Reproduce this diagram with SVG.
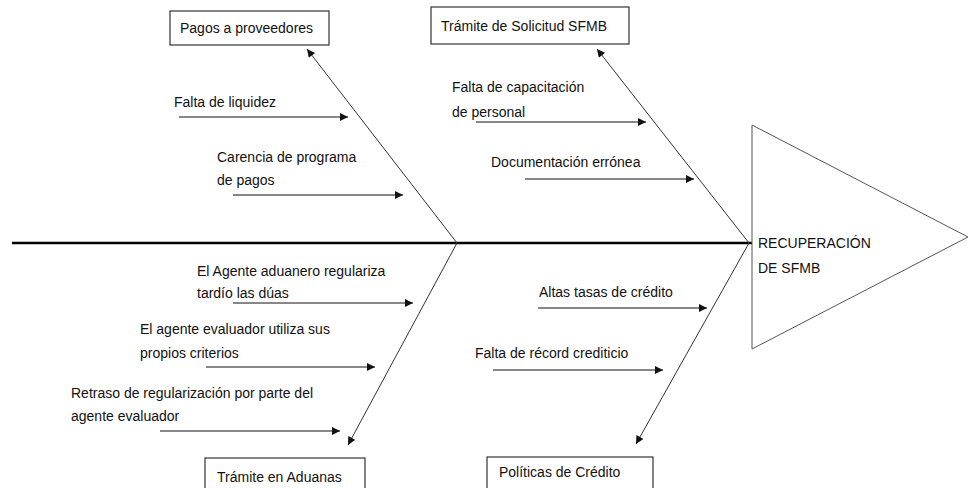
<svg xmlns="http://www.w3.org/2000/svg" width="969" height="488" viewBox="0 0 969 488">
<style>
text{font-family:"Liberation Sans",Arial,sans-serif;font-size:14px;fill:#111}
.box{fill:#fff;stroke:#333;stroke-width:1.2}
.bone{stroke:#333;stroke-width:1;fill:none}
.cause{stroke:#111;stroke-width:1;fill:none}
</style>
<defs>
<marker id="ah" viewBox="0 0 10 10" refX="10" refY="5" markerWidth="10" markerHeight="8" markerUnits="userSpaceOnUse" orient="auto">
<path d="M0,0 L10,5 L0,10 z" fill="#111"/>
</marker>
</defs>
<g id="spine">
<line x1="12" y1="243" x2="752" y2="243" stroke="#000" stroke-width="2.5"/>
</g>
<g id="effect">
<polygon points="752,125 968,237 752,349" fill="#fff" stroke="#555" stroke-width="1"/>
<text x="758" y="248">RECUPERACIÓN</text>
<text x="758" y="273">DE SFMB</text>
</g>
<g id="connectors">
<line class="bone" x1="457" y1="243" x2="307" y2="49" marker-end="url(#ah)"/>
<line class="bone" x1="749" y1="243" x2="597" y2="49" marker-end="url(#ah)"/>
<line class="bone" x1="457" y1="243" x2="348" y2="445" marker-end="url(#ah)"/>
<line class="bone" x1="749" y1="243" x2="636" y2="444" marker-end="url(#ah)"/>
<line class="cause" x1="179" y1="117" x2="348" y2="117" marker-end="url(#ah)"/>
<line class="cause" x1="233" y1="195" x2="403" y2="195" marker-end="url(#ah)"/>
<line class="cause" x1="476" y1="122" x2="646" y2="122" marker-end="url(#ah)"/>
<line class="cause" x1="525" y1="179" x2="694" y2="179" marker-end="url(#ah)"/>
<line class="cause" x1="233" y1="303" x2="413" y2="303" marker-end="url(#ah)"/>
<line class="cause" x1="206" y1="367" x2="375" y2="367" marker-end="url(#ah)"/>
<line class="cause" x1="160" y1="431" x2="340" y2="431" marker-end="url(#ah)"/>
<line class="cause" x1="538" y1="308" x2="707" y2="308" marker-end="url(#ah)"/>
<line class="cause" x1="493" y1="370" x2="663" y2="370" marker-end="url(#ah)"/>
</g>
<g id="cat-pagos">
<rect class="box" x="170" y="11" width="159" height="34"/>
<text x="180" y="33">Pagos a proveedores</text>
</g>
<g id="cat-tramite-sfmb">
<rect class="box" x="431" y="7" width="198" height="37"/>
<text x="441" y="31">Trámite de Solicitud SFMB</text>
</g>
<g id="cat-aduanas">
<rect class="box" x="205" y="458" width="160" height="40"/>
<text x="217" y="482">Trámite en Aduanas</text>
</g>
<g id="cat-credito">
<rect class="box" x="487" y="457" width="166" height="40"/>
<text x="499" y="477">Políticas de Crédito</text>
</g>
<g id="causes">
<text x="174" y="107">Falta de liquidez</text>
<text x="217" y="162">Carencia de programa</text>
<text x="217" y="185">de pagos</text>
<text x="452" y="92">Falta de capacitación</text>
<text x="452" y="117">de personal</text>
<text x="491" y="167">Documentación errónea</text>
<text x="197" y="276">El Agente aduanero regulariza</text>
<text x="197" y="298">tardío las dúas</text>
<text x="140" y="334">El agente evaluador utiliza sus</text>
<text x="140" y="358">propios criterios</text>
<text x="71" y="398">Retraso de regularización por parte del</text>
<text x="71" y="421">agente evaluador</text>
<text x="539" y="297">Altas tasas de crédito</text>
<text x="475" y="358">Falta de récord crediticio</text>
</g>
</svg>
